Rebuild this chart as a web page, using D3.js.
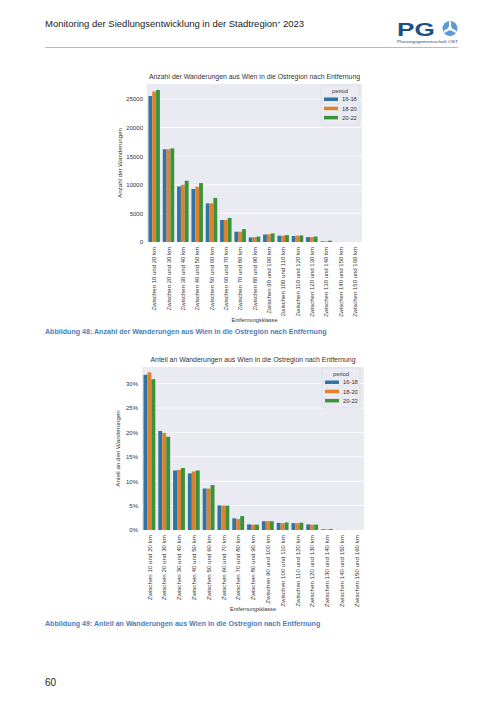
<!DOCTYPE html>
<html>
<head>
<meta charset="utf-8">
<script src="https://cdn.jsdelivr.net/npm/d3@7"></script>
<style>
  body { margin: 0; background: #fff; }
  svg { font-family: "Liberation Sans", Arial, sans-serif; display: block; }
</style>
</head>
<body>
<div id="page"></div>
<script>
// distance classes (x axis)
const categories = [
  "Zwischen 10 und 20 km", "Zwischen 20 und 30 km", "Zwischen 30 und 40 km",
  "Zwischen 40 und 50 km", "Zwischen 50 und 60 km", "Zwischen 60 und 70 km",
  "Zwischen 70 und 80 km", "Zwischen 80 und 90 km", "Zwischen 90 und 100 km",
  "Zwischen 100 und 110 km", "Zwischen 110 und 120 km", "Zwischen 120 und 130 km",
  "Zwischen 130 und 140 km", "Zwischen 140 und 150 km", "Zwischen 150 und 160 km"
];
const periods = ["16-18", "18-20", "20-22"];

// chart 1: number of moves
const count1618 = [25500, 16200, 9700, 9250, 6750, 3850, 1800, 800, 1300, 1100, 1050, 850, 120, 20, 10];
const count1820 = [26300, 16200, 10000, 9650, 6750, 3850, 1800, 850, 1350, 1100, 1100, 850, 100, 15, 5];
const count2022 = [26550, 16350, 10700, 10300, 7700, 4200, 2250, 950, 1500, 1200, 1150, 950, 230, 20, 10];
const countTicks = [0, 5000, 10000, 15000, 20000, 25000];

// chart 2: share of moves (percent)
const share1618 = [31.8, 20.3, 12.2, 11.6, 8.5, 5.05, 2.4, 1.15, 1.8, 1.45, 1.4, 1.15, 0.15, 0.03, 0.01];
const share1820 = [32.3, 19.9, 12.3, 12.0, 8.5, 5.0, 2.25, 1.1, 1.8, 1.4, 1.4, 1.1, 0.12, 0.02, 0.01];
const share2022 = [30.9, 19.1, 12.7, 12.2, 9.2, 5.0, 2.85, 1.1, 1.8, 1.55, 1.5, 1.1, 0.18, 0.03, 0.01];
const shareTicks = [0, 5, 10, 15, 20, 25, 30];

const colors = ["#3274a1", "#e1812c", "#3a923a"];

const W = 504, H = 712;
const svg = d3.select('#page').append('svg')
  .attr('width', W).attr('height', H);

// page header
const head = svg.append('text')
  .attr('x', 45).attr('y', 27)
  .style('font-size', '9.5px').style('fill', '#222');
head.append('tspan').text('Monitoring der Siedlungsentwicklung in der Stadtregion');
head.append('tspan').attr('dy', -3.5).style('font-size', '5px').text('+');
head.append('tspan').attr('dy', 3.5).text(' 2023');
svg.append('line')
  .attr('x1', 45).attr('x2', 458).attr('y1', 47.5).attr('y2', 47.5)
  .style('stroke', '#bbb').style('stroke-width', 1);

// logo
svg.append('text')
  .attr('transform', 'translate(397,36) scale(1.45,1)')
  .style('font-size', '18px').style('font-weight', 'bold')
  .style('fill', '#1d4f86')
  .text('PG');
svg.append('circle')
  .attr('cx', 450).attr('cy', 28.5).attr('r', 7.5)
  .style('fill', '#5b9bd5');
[-90, 30, 150].forEach(a => {
  const r = a * Math.PI / 180;
  svg.append('line')
    .attr('x1', 450).attr('y1', 28.5)
    .attr('x2', 450 + 7 * Math.cos(r)).attr('y2', 28.5 + 7 * Math.sin(r))
    .style('stroke', '#fff').style('stroke-width', 2.2);
});
svg.append('circle')
  .attr('cx', 450).attr('cy', 28.5).attr('r', 2)
  .style('fill', '#fff');
svg.append('text')
  .attr('x', 397).attr('y', 42.5)
  .attr('textLength', 61).attr('lengthAdjust', 'spacingAndGlyphs')
  .style('font-size', '4px').style('fill', '#1d4f86')
  .text('Planungsgemeinschaft OST');

const makeChart = (cfg) => {
  const g = svg.append('g');
  const x = d3.scaleBand()
    .domain(categories)
    .range([cfg.left, cfg.right])
    .paddingInner(0).paddingOuter(0);
  const y = d3.scaleLinear()
    .domain([0, cfg.ymax])
    .range([cfg.bottom, cfg.top]);
  const inner = d3.scaleBand()
    .domain(periods)
    .range([x.bandwidth() * 0.1, x.bandwidth() * 0.9]);

  // background
  g.append('rect')
    .attr('x', cfg.left).attr('y', cfg.top)
    .attr('width', cfg.right - cfg.left).attr('height', cfg.bottom - cfg.top)
    .style('fill', '#eaeaf2');

  // grid
  g.selectAll('.grid')
    .data(cfg.ticks)
    .enter()
    .append('line')
      .attr('x1', cfg.left).attr('x2', cfg.right)
      .attr('y1', d => y(d)).attr('y2', d => y(d))
      .style('stroke', '#fff').style('stroke-width', 0.8);

  // bars
  cfg.series.forEach((vals, si) => {
    g.selectAll('.bar' + si)
      .data(vals)
      .enter()
      .append('rect')
        .attr('x', (d, i) => x(categories[i]) + inner(periods[si]))
        .attr('width', inner.bandwidth())
        .attr('y', d => y(d))
        .attr('height', d => y(0) - y(d))
        .style('fill', colors[si]);
  });

  // y axis
  const yAxis = d3.axisLeft(y).tickValues(cfg.ticks).tickSize(0).tickPadding(4)
    .tickFormat(cfg.fmt);
  const ya = g.append('g')
    .attr('transform', `translate(${cfg.left},0)`)
    .call(yAxis);
  ya.select('.domain').remove();
  ya.selectAll('text').style('font-size', '6px').style('fill', '#333')
    .style('font-family', '"Liberation Sans", Arial, sans-serif');

  // x axis
  const xAxis = d3.axisBottom(x).tickSize(0).tickPadding(0);
  const xa = g.append('g')
    .attr('transform', `translate(0,${cfg.bottom})`)
    .call(xAxis);
  xa.select('.domain').remove();
  xa.selectAll('text')
    .attr('transform', 'rotate(-90)')
    .attr('x', -5).attr('y', 0).attr('dy', '0.35em')
    .style('text-anchor', 'end')
    .style('font-size', cfg.xtickSize).style('fill', '#333')
    .style('font-family', '"Liberation Sans", Arial, sans-serif');

  // titles
  g.append('text')
    .attr('x', (cfg.left + cfg.right) / 2).attr('y', cfg.top - 5)
    .style('text-anchor', 'middle').style('font-size', '6.9px').style('fill', '#333')
    .text(cfg.title);
  g.append('text')
    .attr('transform', `translate(${cfg.ylabelX},${(cfg.top + cfg.bottom) / 2}) rotate(-90)`)
    .style('text-anchor', 'middle').style('font-size', '6.2px').style('fill', '#333')
    .text(cfg.ylabel);
  g.append('text')
    .attr('x', (cfg.left + cfg.right) / 2).attr('y', cfg.xlabelY)
    .style('text-anchor', 'middle').style('font-size', '5.6px').style('fill', '#333')
    .text('Entfernungsklasse');

  // legend
  const lg = g.append('g').attr('transform', `translate(${cfg.legX},${cfg.legY})`);
  lg.append('rect')
    .attr('width', 38).attr('height', 40).attr('rx', 1.5)
    .style('fill', '#eaeaf2').style('stroke', '#d6d6dc').style('stroke-width', 0.6);
  lg.append('text')
    .attr('x', 19).attr('y', 7.5)
    .style('text-anchor', 'middle').style('font-size', '5.8px').style('fill', '#333')
    .text('period');
  periods.forEach((p, i) => {
    lg.append('rect')
      .attr('x', 3).attr('y', 12.5 + i * 9.2)
      .attr('width', 14).attr('height', 3.5)
      .style('fill', colors[i]);
    lg.append('text')
      .attr('x', 21).attr('y', 14.3 + i * 9.2).attr('dy', '0.35em')
      .style('font-size', '5.8px').style('fill', '#333')
      .text(p);
  });

  // caption
  svg.append('text')
    .attr('x', 45).attr('y', cfg.captionY)
    .style('font-size', '7.1px').style('font-weight', 'bold').style('fill', '#4a7ebb')
    .text(cfg.caption);
};

makeChart({
  left: 147, right: 362, top: 84, bottom: 242, ymax: 27600,
  series: [count1618, count1820, count2022],
  ticks: countTicks,
  fmt: d3.format('d'),
  xtickSize: '6px',
  title: 'Anzahl der Wanderungen aus Wien in die Ostregion nach Entfernung',
  ylabel: 'Anzahl der Wanderungen',
  ylabelX: 122,
  xlabelY: 322,
  legX: 321, legY: 85,
  caption: 'Abbildung 48: Anzahl der Wanderungen aus Wien in die Ostregion nach Entfernung',
  captionY: 334
});

makeChart({
  left: 142, right: 364, top: 367, bottom: 530, ymax: 33.4,
  series: [share1618, share1820, share2022],
  ticks: shareTicks,
  fmt: d => d + '%',
  xtickSize: '6.2px',
  title: 'Anteil an Wanderungen aus Wien in die Ostregion nach Entfernung',
  ylabel: 'Anteil an den Wanderungen',
  ylabelX: 120,
  xlabelY: 611,
  legX: 322, legY: 368,
  caption: 'Abbildung 49: Anteil an Wanderungen aus Wien in die Ostregion nach Entfernung',
  captionY: 626
});

// page number
svg.append('text')
  .attr('x', 45).attr('y', 686)
  .style('font-size', '10px').style('fill', '#222')
  .text('60');
</script>
</body>
</html>
